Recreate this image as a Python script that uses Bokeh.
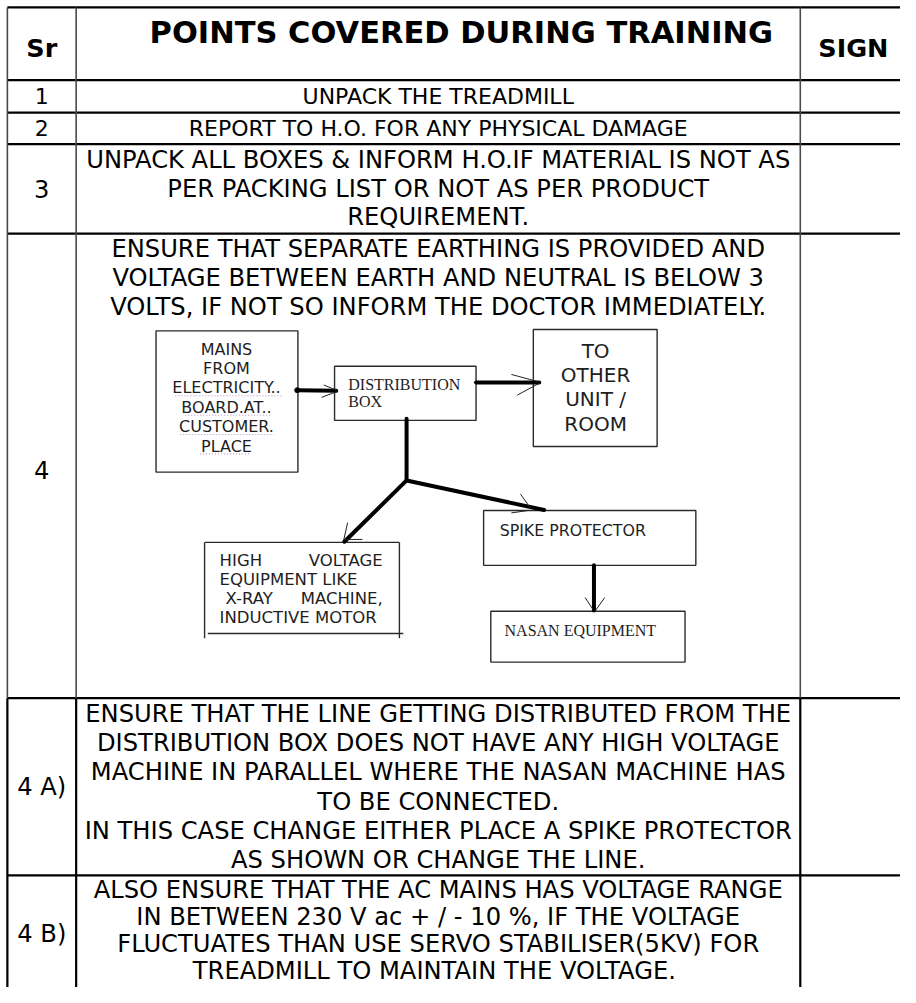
from bokeh.plotting import figure
from bokeh.models import Range1d
from bokeh.embed import file_html
from bokeh.resources import INLINE
from bokeh.core.properties import value

# ---------------- data (texts of the table) ----------------
header_sr = "Sr"
header_title = "POINTS COVERED DURING TRAINING"
header_sign = "SIGN"

sr_labels = ["1", "2", "3", "4", "4 A)", "4 B)"]

row_1 = ["UNPACK THE TREADMILL"]
row_2 = ["REPORT TO H.O. FOR ANY PHYSICAL DAMAGE"]
row_3 = ["UNPACK ALL BOXES & INFORM H.O.IF MATERIAL IS NOT AS",
         "PER PACKING LIST OR NOT AS PER PRODUCT",
         "REQUIREMENT."]
row_4 = ["ENSURE THAT SEPARATE EARTHING IS PROVIDED AND",
         "VOLTAGE BETWEEN EARTH AND NEUTRAL IS BELOW 3",
         "VOLTS, IF NOT SO INFORM THE DOCTOR IMMEDIATELY."]
row_4a = ["ENSURE THAT THE LINE GETTING DISTRIBUTED FROM THE",
          "DISTRIBUTION BOX DOES NOT HAVE ANY HIGH VOLTAGE",
          "MACHINE IN PARALLEL WHERE THE NASAN MACHINE HAS",
          "TO BE CONNECTED.",
          "IN THIS CASE CHANGE EITHER PLACE A SPIKE PROTECTOR",
          "AS SHOWN OR CHANGE THE LINE."]
row_4b = ["ALSO ENSURE THAT THE AC MAINS HAS VOLTAGE RANGE",
          "IN BETWEEN 230 V ac + / - 10 %, IF THE VOLTAGE",
          "FLUCTUATES THAN USE SERVO STABILISER(5KV) FOR",
          "TREADMILL  TO MAINTAIN THE VOLTAGE."]

box_mains = ["MAINS", "FROM", "ELECTRICITY..", "BOARD.AT..", "CUSTOMER.", "PLACE"]
box_dist = ["DISTRIBUTION", "BOX"]
box_other = ["TO", "OTHER", "UNIT /", "ROOM"]
box_high_left = ["HIGH", "EQUIPMENT LIKE", "X-RAY", "INDUCTIVE MOTOR"]
box_high_right = ["VOLTAGE", "", "MACHINE,", ""]
box_spike = ["SPIKE PROTECTOR"]
box_nasan = ["NASAN EQUIPMENT"]

# ---------------- layout ----------------
W, H = 900, 987
p = figure(width=W, height=H, x_range=Range1d(0, 916), y_range=Range1d(1003, 0),
           output_backend="svg", toolbar_location=None,
           x_axis_location=None, y_axis_location=None, min_border=0)
p.grid.visible = False
p.outline_line_color = None
p.background_fill_color = "white"
p.border_fill_color = "white"

X_LEFT, X_SR, X_SIGN, X_RIGHT = 7, 77, 814, 916
Y_ROWS = [7, 81, 114, 146, 237, 709, 889]
Y_END = 1003

# table grid
p.segment(x0=[X_LEFT] * len(Y_ROWS), y0=Y_ROWS, x1=[X_RIGHT] * len(Y_ROWS), y1=Y_ROWS,
          line_color="black", line_width=2.2)
p.segment(x0=[X_LEFT, X_SR, X_SIGN], y0=[7, 7, 7], x1=[X_LEFT, X_SR, X_SIGN],
          y1=[709, 709, 709], line_color="#4a4a4a", line_width=1.6)
p.segment(x0=[X_LEFT, X_SR, X_SIGN], y0=[709, 709, 709], x1=[X_LEFT, X_SR, X_SIGN],
          y1=[Y_END] * 3, line_color="black", line_width=2.2)

BODY_FONT = value("DejaVu Sans")
SMALL_SIZE = "22px"
BODY_SIZE = "24.2px"

# header
p.text(x=[42], y=[48], text=[header_sr], text_font=BODY_FONT, text_font_size="25.5px",
       text_font_style="bold", text_align="center", text_baseline="middle", text_color="black")
p.text(x=[469], y=[33], text=[header_title], text_font=BODY_FONT, text_font_size="30.5px",
       text_font_style="bold", text_align="center", text_baseline="middle", text_color="black")
p.text(x=[868], y=[48], text=[header_sign], text_font=BODY_FONT, text_font_size="25.5px",
       text_font_style="bold", text_align="center", text_baseline="middle", text_color="black")

# sr column
sr_y = [97.5, 130, 191.5, 477, 799, 949]
sr_sizes = [SMALL_SIZE, SMALL_SIZE, BODY_SIZE, BODY_SIZE, BODY_SIZE, BODY_SIZE]
p.text(x=[42] * len(sr_labels), y=sr_y, text=sr_labels, text_font=BODY_FONT,
       text_font_size=sr_sizes, text_align="center", text_baseline="middle", text_color="black")

# row texts
def place(lines, first_y, step):
    return [first_y + i * step for i in range(len(lines))]

rows = [(row_1, 97.5, 0, SMALL_SIZE), (row_2, 130, 0, SMALL_SIZE),
        (row_3, 162.5, 29, BODY_SIZE), (row_4, 253, 29, BODY_SIZE),
        (row_4a, 725.5, 29.5, BODY_SIZE), (row_4b, 904, 27.5, BODY_SIZE)]
for lines, y0, step, size in rows:
    ys = place(lines, y0, step)
    p.text(x=[445.5] * len(lines), y=ys, text=lines, text_font=BODY_FONT,
           text_font_size=size, text_align="center", text_baseline="middle",
           text_color="black")

# ---------------- diagram ----------------
BOX_COLOR = "#2b2b2b"
def box(l, t, r, b):
    p.quad(left=[l], right=[r], top=[t], bottom=[b], fill_color=None,
           line_color=BOX_COLOR, line_width=1.4)

box(158.3, 335.7, 302.7, 479.3)     # mains
box(340, 371.7, 484, 426.7)         # distribution
box(542.3, 334.3, 668.3, 453.3)     # to other unit
box(491.7, 518.3, 707.7, 574)       # spike protector
box(499, 620.7, 696.7, 672.3)       # nasan equipment
# high voltage (open box with a bottom line)
p.segment(x0=[207.7, 207.7, 406, 211], y0=[550.7, 550.7, 550.7, 643.3],
          x1=[406, 207.7, 406, 410], y1=[550.7, 648, 648, 643.3],
          line_color=BOX_COLOR, line_width=1.4)

# thick connectors
p.segment(x0=[301.7, 484, 413.3, 413.3, 413.3, 604],
          y0=[396, 388.3, 425, 487.7, 487.7, 574],
          x1=[341.7, 548.3, 413.3, 553.3, 350, 604],
          y1=[396.7, 388.3, 487.7, 517.7, 550, 620],
          line_color="black", line_width=4, line_cap="round")
p.scatter(x=[302], y=[396], size=5, color="black")
# thin arrow heads
p.segment(x0=[329, 326.7, 520, 526, 529.3, 520, 353.3, 350, 595, 615],
          y0=[390.7, 403.3, 380, 401, 501.7, 520.7, 530.7, 547.7, 606.7, 606.7],
          x1=[341.7, 341.7, 548.3, 548.3, 540, 536.7, 349.3, 368.3, 603.3, 606],
          y1=[396, 397.7, 387.7, 389, 516.7, 518.3, 548.3, 547.7, 619.3, 619.3],
          line_color="#222222", line_width=1)

TXT = "#1e1e1e"
mains_y = place(box_mains, 354.3, 19.7)
p.text(x=[230] * len(box_mains), y=mains_y, text=box_mains,
       text_font=BODY_FONT, text_font_size="16px", text_align="center",
       text_baseline="middle", text_color=TXT)
# spell-check style dotted underlines under the last four words
p.segment(x0=[178, 188, 183, 203], y0=[y + 8 for y in mains_y[2:]],
          x1=[288, 275, 278, 255], y1=[y + 8 for y in mains_y[2:]],
          line_color="#a070b0", line_width=1, line_dash="1 2", line_alpha=0.8)
p.text(x=[354] * 2, y=[390, 408], text=box_dist, text_font=value("Liberation Serif"),
       text_font_size="16px", text_align="left", text_baseline="middle", text_color=TXT)
p.text(x=[605.7] * len(box_other), y=place(box_other, 355.7, 24.8), text=box_other,
       text_font=BODY_FONT, text_font_size="20px", text_align="center",
       text_baseline="middle", text_color=TXT)
hy = place(box_high_left, 569, 19.5)
p.text(x=[223, 223, 229, 223], y=hy, text=box_high_left, text_font=BODY_FONT,
       text_font_size="16.5px", text_align="left", text_baseline="middle", text_color=TXT)
p.text(x=[389] * 4, y=hy, text=box_high_right, text_font=BODY_FONT,
       text_font_size="16.5px", text_align="right", text_baseline="middle", text_color=TXT)
p.text(x=[508], y=[538.3], text=box_spike, text_font=BODY_FONT, text_font_size="15.8px",
       text_align="left", text_baseline="middle", text_color=TXT)
p.text(x=[513], y=[640], text=box_nasan, text_font=value("Liberation Serif"),
       text_font_size="16px", text_align="left", text_baseline="middle", text_color=TXT)

open("out.html", "w").write(file_html(p, INLINE))
